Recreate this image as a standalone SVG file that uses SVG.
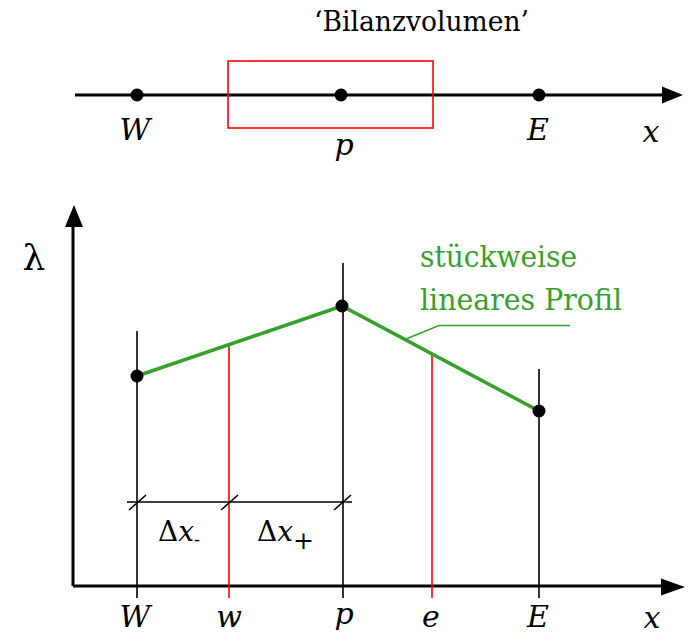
<svg xmlns="http://www.w3.org/2000/svg" width="697" height="634" viewBox="0 0 697 634">
<style>
text{font-family:'DejaVu Serif','Liberation Serif',serif;fill:#000}
.i{font-style:italic;text-anchor:middle;font-size:30px}
.g{fill:#36a02e;font-size:30px}
.ax{stroke:#000;stroke-width:3;fill:none}
.bl{stroke:#000;stroke-width:1.6}
.rd{stroke:#ff0000;stroke-width:1.6}
.gr{stroke:#36a02e;stroke-width:3.5;fill:none}
.dot{fill:#000}
</style>
<rect width="697" height="634" fill="#fff"/>
<g id="top-axis">
<line class="ax" x1="75" y1="95" x2="665" y2="95"/>
<polygon points="683,95 662,86.5 662,103.5" fill="#000"/>
<rect x="228" y="61" width="205" height="67" fill="none" stroke="#ff0000" stroke-width="1.6"/>
<circle class="dot" cx="137" cy="95" r="6.5"/>
<circle class="dot" cx="341" cy="95" r="6.5"/>
<circle class="dot" cx="539" cy="95" r="6.5"/>
<text x="314" y="31" font-size="27" textLength="215" lengthAdjust="spacingAndGlyphs">‘Bilanzvolumen’</text>
<text class="i" x="135" y="140">W</text>
<text class="i" x="344" y="155">p</text>
<text class="i" x="538" y="140">E</text>
<text class="i" x="651" y="142" font-size="37">x</text>
</g>
<g id="plot-axes">
<line class="ax" x1="73" y1="222" x2="73" y2="586"/>
<polyline class="ax" points="73,586 665,586"/>
<polygon points="74,205 65,227 83,227" fill="#000"/>
<polygon points="685,587 661,578.5 661,595.5" fill="#000"/>
<text x="34" y="270" font-size="36" text-anchor="middle">λ</text>
</g>
<g id="grid-lines">
<line class="bl" x1="137" y1="331" x2="137" y2="598"/>
<line class="bl" x1="343" y1="263" x2="343" y2="598"/>
<line class="bl" x1="539" y1="369" x2="539" y2="598"/>
<line class="rd" x1="229" y1="344" x2="229" y2="598"/>
<line class="rd" x1="432" y1="353" x2="432" y2="598"/>
</g>
<g id="profile">
<polyline class="gr" points="137,376 342,306 539,411"/>
<circle class="dot" cx="137" cy="376" r="6.5"/>
<circle class="dot" cx="342" cy="306" r="6.5"/>
<circle class="dot" cx="539" cy="411" r="6.5"/>
<polyline points="406,339 439,325.5 570,325.5" fill="none" stroke="#36a02e" stroke-width="1.6"/>
<text class="g" x="420" y="267" textLength="157" lengthAdjust="spacingAndGlyphs">stückweise</text>
<text class="g" x="420" y="310" textLength="202" lengthAdjust="spacingAndGlyphs">lineares Profil</text>
</g>
<g id="dimension">
<line class="bl" x1="127" y1="502" x2="352" y2="502"/>
<line class="bl" x1="129" y1="510" x2="146" y2="495"/>
<line class="bl" x1="221" y1="510" x2="238" y2="495"/>
<line class="bl" x1="334" y1="510" x2="351" y2="495"/>
<text x="158" y="541" font-size="28">Δ<tspan font-style="italic">x</tspan><tspan font-size="18" dy="5">-</tspan></text>
<text x="257" y="541" font-size="28">Δ<tspan font-style="italic">x</tspan><tspan font-size="25" dy="8">+</tspan></text>
</g>
<g id="bottom-labels">
<text class="i" x="135" y="627">W</text>
<text class="i" x="229" y="627">w</text>
<text class="i" x="344" y="624">p</text>
<text class="i" x="431" y="627">e</text>
<text class="i" x="538" y="627">E</text>
<text class="i" x="652" y="628" font-size="37">x</text>
</g>
</svg>
